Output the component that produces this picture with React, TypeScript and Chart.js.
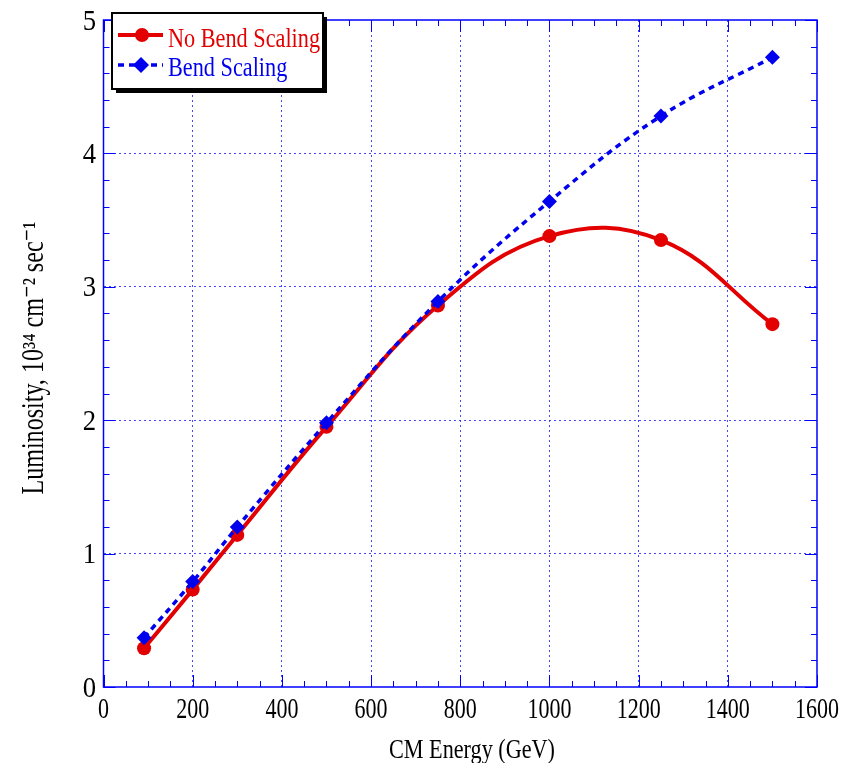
import React, { useEffect, useRef } from 'react';
import { Chart, registerables } from 'chart.js';

Chart.register(...registerables);

// ---- data ----
const energies = [91, 200, 300, 500, 750, 1000, 1250, 1500];
const noBendScaling = [0.29, 0.73, 1.14, 1.95, 2.86, 3.38, 3.35, 2.72];
const bendScaling = [0.37, 0.79, 1.2, 1.98, 2.89, 3.64, 4.28, 4.72];
const seriesNames = ['No Bend Scaling', 'Bend Scaling'];
const xTitle = 'CM Energy (GeV)';
const yTitle = 'Luminosity, 10³⁴ cm⁻² sec⁻¹';
const xRange = [0, 1600, 200];
const yRange = [0, 5, 1];

const RED = 'rgb(226,0,0)';
const BLUE = 'rgb(0,0,238)';
const FRAME = 'rgb(0,0,255)';
const SERIF = '"Liberation Serif", "DejaVu Serif", serif';

function drawText(
  ctx: CanvasRenderingContext2D,
  text: string,
  x: number,
  y: number,
  o: { size: number; color: string; align: CanvasTextAlign; sx?: number; width?: number; rot?: number }
) {
  ctx.save();
  ctx.font = `${o.size}px ${SERIF}`;
  let sx = o.sx ?? 1;
  if (o.width) sx = o.width / ctx.measureText(text).width;
  ctx.translate(x, y);
  if (o.rot) ctx.rotate(o.rot);
  ctx.scale(sx, 1);
  ctx.fillStyle = o.color;
  ctx.textAlign = o.align;
  ctx.textBaseline = 'alphabetic';
  ctx.fillText(text, 0, 0);
  ctx.restore();
}

const decorPlugin = {
  id: 'decor',
  afterDraw(chart: any) {
    const ctx: CanvasRenderingContext2D = chart.ctx;
    const { left, right, top, bottom } = chart.chartArea;
    const xs = chart.scales.x;
    const ys = chart.scales.y;

    // frame
    ctx.save();
    ctx.strokeStyle = FRAME;
    ctx.lineWidth = 1.5;
    ctx.strokeRect(left, top, right - left, bottom - top);
    ctx.lineWidth = 1;
    ctx.beginPath();
    for (let v = xs.min; v <= xs.max + 1e-6; v += 50) {
      const p = Math.round(xs.getPixelForValue(v)) + 0.5;
      const len = v % 200 === 0 ? 12 : 6;
      ctx.moveTo(p, bottom); ctx.lineTo(p, bottom - len);
      ctx.moveTo(p, top); ctx.lineTo(p, top + len);
    }
    for (let i = 0; i <= 25; i++) {
      const v = i * 0.2;
      const p = Math.round(ys.getPixelForValue(v)) + 0.5;
      const len = i % 5 === 0 ? 12 : 6;
      ctx.moveTo(left, p); ctx.lineTo(left + len, p);
      ctx.moveTo(right, p); ctx.lineTo(right - len, p);
    }
    ctx.stroke();
    ctx.restore();

    // tick labels
    ctx.save();
    ctx.font = `29px ${SERIF}`;
    const xsx = 44 / ctx.measureText('1000').width;
    ctx.restore();
    xs.ticks.forEach((t: any) => {
      drawText(ctx, String(t.value), xs.getPixelForValue(t.value), 718, { size: 29, color: '#000', align: 'center', sx: xsx });
    });
    ys.ticks.forEach((t: any) => {
      drawText(ctx, String(t.value), 96, ys.getPixelForValue(t.value) + 9.5, { size: 29, color: '#000', align: 'right', sx: 0.92 });
    });

    // axis titles
    drawText(ctx, xTitle, 472, 758, { size: 28, color: '#000', align: 'center', width: 166 });
    drawText(ctx, yTitle, 43, 358, { size: 31, color: '#000', align: 'center', width: 273, rot: -Math.PI / 2 });

    // legend
    const bx = 112, by = 13, bw = 211, bh = 76;
    ctx.save();
    ctx.fillStyle = '#000';
    ctx.fillRect(bx + 4, by + 4, bw, bh);
    ctx.fillStyle = '#fff';
    ctx.fillRect(bx, by, bw, bh);
    ctx.strokeStyle = '#000';
    ctx.lineWidth = 2;
    ctx.strokeRect(bx, by, bw, bh);

    const ds = chart.data.datasets;
    // row 1
    ctx.strokeStyle = ds[0].borderColor;
    ctx.lineWidth = 4;
    ctx.beginPath(); ctx.moveTo(118, 35); ctx.lineTo(163, 35); ctx.stroke();
    ctx.fillStyle = ds[0].borderColor;
    ctx.beginPath(); ctx.arc(142, 35, 7, 0, Math.PI * 2); ctx.fill();
    // row 2
    ctx.strokeStyle = ds[1].borderColor;
    ctx.lineWidth = 3.5;
    ctx.setLineDash([6, 5]);
    ctx.beginPath(); ctx.moveTo(118, 65); ctx.lineTo(163, 65); ctx.stroke();
    ctx.setLineDash([]);
    ctx.fillStyle = ds[1].borderColor;
    ctx.beginPath();
    ctx.moveTo(141, 57); ctx.lineTo(149, 65); ctx.lineTo(141, 73); ctx.lineTo(133, 65); ctx.closePath(); ctx.fill();
    ctx.restore();

    ctx.save();
    ctx.font = `28px ${SERIF}`;
    const lsx = 152 / ctx.measureText(ds[0].label).width;
    ctx.restore();
    drawText(ctx, ds[0].label, 168, 47, { size: 28, color: ds[0].borderColor, align: 'left', sx: lsx });
    drawText(ctx, ds[1].label, 168, 76, { size: 28, color: ds[1].borderColor, align: 'left', sx: lsx });
  },
};

export default function App() {
  const ref = useRef<HTMLCanvasElement>(null);

  useEffect(() => {
    if (!ref.current) return;
    const gridColor = (c: any) => {
      const v = c.tick?.value;
      const s = c.scale;
      return v === s.min || v === s.max ? 'rgba(0,0,0,0)' : 'rgba(40,40,255,0.85)';
    };
    const chart = new Chart(ref.current, {
      type: 'line',
      data: {
        datasets: [
          {
            label: seriesNames[0],
            data: energies.map((e, i) => ({ x: e, y: noBendScaling[i] })),
            borderColor: RED,
            backgroundColor: RED,
            borderWidth: 4,
            pointStyle: 'circle',
            pointRadius: 7,
            pointBorderWidth: 0,
            tension: 0.4,
            fill: false,
            order: 1,
          },
          {
            label: seriesNames[1],
            data: energies.map((e, i) => ({ x: e, y: bendScaling[i] })),
            borderColor: BLUE,
            backgroundColor: BLUE,
            borderWidth: 3.5,
            borderDash: [6, 5],
            pointStyle: 'rectRot',
            pointRadius: 7.5,
            pointBorderWidth: 0,
            tension: 0.4,
            fill: false,
            order: 0,
          },
        ],
      },
      options: {
        responsive: false,
        animation: false,
        devicePixelRatio: 1,
        layout: { padding: { left: 0, right: 29, top: 20, bottom: 0 } },
        plugins: { legend: { display: false }, tooltip: { enabled: false } },
        scales: {
          x: {
            type: 'linear',
            min: xRange[0],
            max: xRange[1],
            ticks: { stepSize: xRange[2], display: false },
            grid: { color: gridColor, lineWidth: 1, drawTicks: false },
            border: { display: false, dash: [2, 3] },
            afterFit: (s: any) => { s.height = 76; },
          },
          y: {
            type: 'linear',
            min: yRange[0],
            max: yRange[1],
            ticks: { stepSize: yRange[2], display: false },
            grid: { color: gridColor, lineWidth: 1, drawTicks: false },
            border: { display: false, dash: [2, 3] },
            afterFit: (s: any) => { s.width = 103.5; },
          },
        },
      },
      plugins: [decorPlugin],
    } as any);
    return () => chart.destroy();
  }, []);

  return (
    <div style={{ position: 'absolute', left: 0, top: 0, width: 846, height: 763, background: '#fff' }}>
      <canvas ref={ref} width={846} height={763} />
    </div>
  );
}
